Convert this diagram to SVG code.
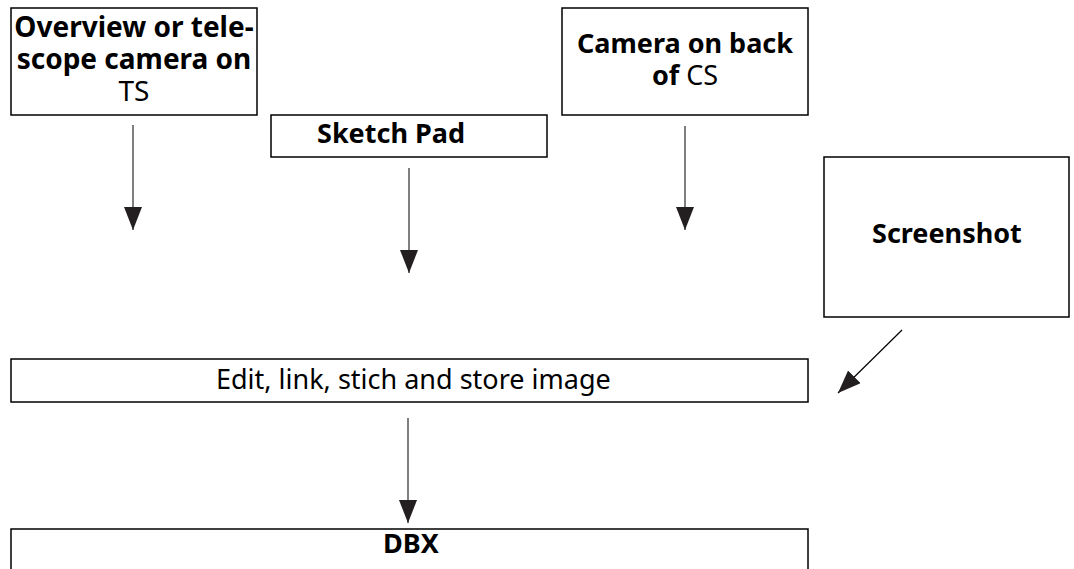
<svg xmlns="http://www.w3.org/2000/svg" width="1074" height="569" viewBox="0 0 1074 569">
<defs>
<style>
.box{fill:#fff;stroke:#000;stroke-width:1.5}
.t{font-family:"Noto Sans","Open Sans","DejaVu Sans",sans-serif;font-size:27px;fill:#000}
.b{font-weight:bold}
.c{stroke:#555;stroke-width:1.5;fill:none}
.d{stroke:#000;stroke-width:1.2;fill:none}
</style>
<marker id="ah" markerUnits="userSpaceOnUse" markerWidth="24" markerHeight="20" refX="23" refY="9" orient="auto" viewBox="0 0 24 20"><path d="M0,0 L23,9 L0,18 Z" fill="#231f20"/></marker>
</defs>
<rect width="1074" height="569" fill="#fff"/>
<g id="n-overview">
<rect class="box" x="11" y="8" width="246" height="107"/>
<text class="t b" x="134" y="37" text-anchor="middle" style="font-size:28px">Overview or tele-</text>
<text class="t b" x="134" y="69" text-anchor="middle" style="font-size:28px">scope camera on</text>
<text class="t" x="134" y="101" text-anchor="middle" style="font-size:28px">TS</text>
</g>
<g id="n-sketch">
<rect class="box" x="271" y="115" width="276" height="42"/>
<text class="t b" x="317" y="143">Sketch Pad</text>
</g>
<g id="n-camera">
<rect class="box" x="562" y="8" width="246" height="107"/>
<text class="t b" x="685" y="53" text-anchor="middle">Camera on back</text>
<text class="t" x="685" y="85" text-anchor="middle"><tspan class="b">of</tspan> CS</text>
</g>
<g id="n-screenshot">
<rect class="box" x="824" y="157" width="245" height="160"/>
<text class="t b" x="872" y="243">Screenshot</text>
</g>
<g id="n-edit">
<rect class="box" x="11" y="359" width="797" height="43"/>
<text class="t" x="216" y="389">Edit, link, stich and store image</text>
</g>
<g id="n-dbx">
<rect class="box" x="11" y="529" width="797" height="60"/>
<text class="t b" x="383" y="553">DBX</text>
</g>
<g id="connectors">
<line class="c" x1="133" y1="125" x2="133" y2="230" marker-end="url(#ah)"/>
<line class="c" x1="409" y1="168" x2="409" y2="273" marker-end="url(#ah)"/>
<line class="c" x1="685" y1="126" x2="685" y2="230" marker-end="url(#ah)"/>
<line class="d" x1="902" y1="330" x2="838" y2="393" marker-end="url(#ah)"/>
<line class="c" x1="408" y1="418" x2="408" y2="523" marker-end="url(#ah)"/>
</g>
</svg>
